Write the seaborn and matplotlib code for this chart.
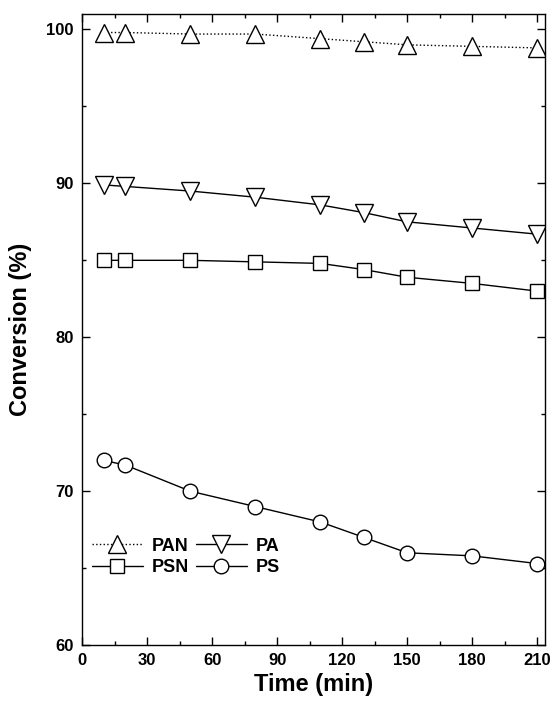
import matplotlib
matplotlib.use("Agg")
import matplotlib.pyplot as plt
import seaborn as sns
import pandas as pd
from matplotlib.ticker import MultipleLocator

time = [10, 20, 50, 80, 110, 130, 150, 180, 210]
pan = [99.8, 99.8, 99.7, 99.7, 99.4, 99.2, 99.0, 98.9, 98.8]
pa = [89.9, 89.8, 89.5, 89.1, 88.6, 88.1, 87.5, 87.1, 86.7]
psn = [85.0, 85.0, 85.0, 84.9, 84.8, 84.4, 83.9, 83.5, 83.0]
ps = [72.0, 71.7, 70.0, 69.0, 68.0, 67.0, 66.0, 65.8, 65.3]
series_names = ["PAN", "PA", "PSN", "PS"]
x_ticks = [0, 30, 60, 90, 120, 150, 180, 210]
y_ticks = [60, 70, 80, 90, 100]

sns.set_theme(style="ticks")
plt.rcParams['font.family'] = ['Liberation Sans', 'DejaVu Sans']
plt.rcParams['text.color'] = 'black'
plt.rcParams['axes.labelcolor'] = 'black'
plt.rcParams['xtick.color'] = 'black'
plt.rcParams['ytick.color'] = 'black'

fig = plt.figure(figsize=(5.52, 7.02), dpi=100)
ax = fig.add_axes([0.1486, 0.081, 0.8384, 0.899])

styles = {
    "PAN": dict(marker="^", linestyle=":", size=13),
    "PA": dict(marker="v", linestyle="-", size=13),
    "PSN": dict(marker="s", linestyle="-", size=9.6),
    "PS": dict(marker="o", linestyle="-", size=10.5),
}
data = {"PAN": pan, "PA": pa, "PSN": psn, "PS": ps}
for name in series_names:
    df = pd.DataFrame({"Time": time, "Conversion": data[name]})
    st = styles[name]
    sns.lineplot(data=df, x="Time", y="Conversion", ax=ax, color="black",
                 linewidth=1.0, linestyle=st["linestyle"], marker=st["marker"],
                 markersize=st["size"],
                 markerfacecolor="white", markeredgecolor="black",
                 markeredgewidth=1.0, label=name)
handles = {name: line for line, name in zip(ax.get_lines(), series_names)}

ax.set_xlim(0, 213.5)
ax.set_ylim(60, 101)
ax.set_xticks(x_ticks)
ax.set_yticks(y_ticks)
ax.xaxis.set_minor_locator(MultipleLocator(15))
ax.yaxis.set_minor_locator(MultipleLocator(5))
ax.tick_params(which="both", direction="in", top=True, right=True, width=1.0, color="black")
ax.tick_params(which="major", length=6, labelsize=12, pad=6)
ax.tick_params(which="minor", length=3)
for lab in ax.get_xticklabels() + ax.get_yticklabels():
    lab.set_fontweight("bold")
for sp in ax.spines.values():
    sp.set_color("black")
    sp.set_linewidth(1.0)

ax.set_xlabel("Time (min)", fontsize=17, fontweight="bold", labelpad=3)
ax.set_ylabel("Conversion (%)", fontsize=17, fontweight="bold", labelpad=10)

order = ["PAN", "PSN", "PA", "PS"]
ax.legend([handles[n] for n in order], order, ncol=2, loc="center left",
          bbox_to_anchor=(0.0216, 0.140), frameon=False, handlelength=2.8,
          columnspacing=0.4, handletextpad=0.5, labelspacing=0.25,
          borderpad=0, borderaxespad=0,
          prop=dict(weight="bold", size=13))

fig.savefig("out.png", dpi=100)
